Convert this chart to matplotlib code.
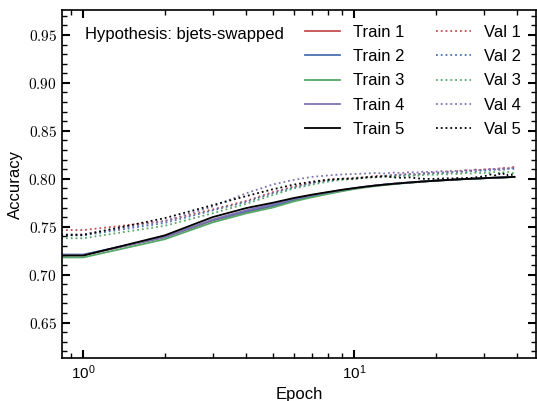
import matplotlib
matplotlib.use("Agg")
import matplotlib.pyplot as plt
from matplotlib.ticker import FuncFormatter, MultipleLocator
import numpy as np

plt.rcParams["font.family"] = ["Liberation Sans", "DejaVu Sans"]
plt.rcParams["mathtext.fontset"] = "cm"

epochs = np.arange(40)

train_1 = [0.700, 0.7205, 0.7390, 0.7565, 0.7655, 0.7715, 0.7775, 0.7815, 0.7848, 0.7875,
           0.7898, 0.7915, 0.7928, 0.7938, 0.7947, 0.7955, 0.7960, 0.7966, 0.7972, 0.7976,
           0.7980, 0.7984, 0.7987, 0.7990, 0.7993, 0.7996, 0.7998, 0.8000, 0.8002, 0.8004,
           0.8006, 0.8008, 0.8010, 0.8011, 0.8013, 0.8014, 0.8016, 0.8017, 0.8018, 0.8020]
train_2 = [0.700, 0.7210, 0.7392, 0.7568, 0.7660, 0.7720, 0.7780, 0.7820, 0.7850, 0.7878,
           0.7900, 0.7916, 0.7930, 0.7940, 0.7948, 0.7956, 0.7961, 0.7967, 0.7972, 0.7977,
           0.7981, 0.7984, 0.7987, 0.7990, 0.7993, 0.7996, 0.7998, 0.8000, 0.8002, 0.8004,
           0.8006, 0.8008, 0.8009, 0.8011, 0.8012, 0.8014, 0.8015, 0.8017, 0.8018, 0.8019]
train_3 = [0.698, 0.7180, 0.7370, 0.7545, 0.7640, 0.7700, 0.7765, 0.7808, 0.7842, 0.7870,
           0.7893, 0.7910, 0.7924, 0.7935, 0.7944, 0.7952, 0.7958, 0.7964, 0.7970, 0.7975,
           0.7979, 0.7982, 0.7986, 0.7989, 0.7992, 0.7995, 0.7997, 0.7999, 0.8001, 0.8003,
           0.8005, 0.8007, 0.8009, 0.8010, 0.8012, 0.8013, 0.8015, 0.8016, 0.8017, 0.8019]
train_4 = [0.700, 0.7205, 0.7395, 0.7575, 0.7672, 0.7735, 0.7792, 0.7830, 0.7858, 0.7883,
           0.7903, 0.7918, 0.7931, 0.7941, 0.7949, 0.7956, 0.7962, 0.7967, 0.7973, 0.7977,
           0.7981, 0.7985, 0.7988, 0.7991, 0.7994, 0.7996, 0.7999, 0.8001, 0.8003, 0.8004,
           0.8006, 0.8008, 0.8010, 0.8011, 0.8013, 0.8014, 0.8016, 0.8017, 0.8018, 0.8020]
train_5 = [0.700, 0.7200, 0.7410, 0.7600, 0.7695, 0.7750, 0.7800, 0.7835, 0.7862, 0.7885,
           0.7903, 0.7918, 0.7930, 0.7940, 0.7948, 0.7955, 0.7961, 0.7967, 0.7972, 0.7976,
           0.7980, 0.7984, 0.7987, 0.7990, 0.7993, 0.7996, 0.7998, 0.8000, 0.8002, 0.8004,
           0.8006, 0.8008, 0.8010, 0.8011, 0.8012, 0.8014, 0.8015, 0.8017, 0.8018, 0.8020]

val_1 = [0.720, 0.7465, 0.7560, 0.7680, 0.7770, 0.7860, 0.7920, 0.7960, 0.7990, 0.8000,
         0.8010, 0.8015, 0.8030, 0.8030, 0.8040, 0.8045, 0.8050, 0.8040, 0.8060, 0.8055,
         0.8070, 0.8060, 0.8075, 0.8070, 0.8080, 0.8075, 0.8090, 0.8085, 0.8095, 0.8090,
         0.8100, 0.8095, 0.8105, 0.8100, 0.8110, 0.8105, 0.8115, 0.8110, 0.8120, 0.8125]
val_2 = [0.718, 0.7410, 0.7540, 0.7670, 0.7760, 0.7850, 0.7910, 0.7955, 0.7980, 0.7995,
         0.8005, 0.8015, 0.8020, 0.8030, 0.8035, 0.8040, 0.8045, 0.8050, 0.8050, 0.8060,
         0.8055, 0.8065, 0.8060, 0.8070, 0.8065, 0.8075, 0.8070, 0.8080, 0.8075, 0.8085,
         0.8080, 0.8090, 0.8085, 0.8095, 0.8090, 0.8100, 0.8095, 0.8105, 0.8100, 0.8105]
val_3 = [0.716, 0.7380, 0.7510, 0.7640, 0.7740, 0.7830, 0.7900, 0.7940, 0.7970, 0.7990,
         0.8000, 0.8010, 0.8015, 0.8025, 0.8020, 0.8030, 0.8035, 0.8030, 0.8040, 0.8045,
         0.8040, 0.8050, 0.8045, 0.8055, 0.8050, 0.8055, 0.8060, 0.8055, 0.8065, 0.8060,
         0.8065, 0.8055, 0.8065, 0.8070, 0.8060, 0.8070, 0.8065, 0.8070, 0.8060, 0.8060]
val_4 = [0.719, 0.7420, 0.7560, 0.7710, 0.7850, 0.7940, 0.7990, 0.8020, 0.8035, 0.8045,
         0.8050, 0.8055, 0.8060, 0.8055, 0.8065, 0.8060, 0.8070, 0.8065, 0.8075, 0.8070,
         0.8075, 0.8080, 0.8075, 0.8085, 0.8080, 0.8085, 0.8090, 0.8085, 0.8095, 0.8090,
         0.8095, 0.8100, 0.8095, 0.8105, 0.8100, 0.8105, 0.8110, 0.8105, 0.8115, 0.8110]
val_5 = [0.717, 0.7415, 0.7590, 0.7725, 0.7820, 0.7890, 0.7940, 0.7970, 0.7990, 0.8000,
         0.8000, 0.8015, 0.8020, 0.8025, 0.8015, 0.8010, 0.8015, 0.8005, 0.8000, 0.7998,
         0.8000, 0.8002, 0.8005, 0.8003, 0.8008, 0.8005, 0.8010, 0.8008, 0.8015, 0.8020,
         0.8025, 0.8035, 0.8045, 0.8035, 0.8055, 0.8040, 0.8060, 0.8035, 0.8045, 0.8015]

train = [train_1, train_2, train_3, train_4, train_5]
val = [val_1, val_2, val_3, val_4, val_5]
colors = ["#C44E52", "#4C72B0", "#55A868", "#8172B2", "black"]

fig, ax = plt.subplots(figsize=(5.37, 4.01), dpi=100)
fig.subplots_adjust(left=0.115, right=0.998, bottom=0.107, top=0.975)

handles_tr, handles_va = [], []
for i in range(5):
    h, = ax.plot(epochs, train[i], c=colors[i], lw=1.3, label=f"Train {i + 1}")
    handles_tr.append(h)
    h, = ax.plot(epochs, val[i], c=colors[i], lw=1.3, ls=":", label=f"Val {i + 1}")
    handles_va.append(h)

ax.set_xscale("log")
ax.set_ylim(0.613, 0.976)
ax.yaxis.set_major_locator(MultipleLocator(0.05))
ax.yaxis.set_minor_locator(MultipleLocator(0.01))
ax.yaxis.set_major_formatter(FuncFormatter(lambda v, p: f"${v:.2f}$"))
ax.tick_params(which="both", direction="in", top=True, right=True, labelsize=11)
ax.tick_params(which="major", length=6, width=1.5)
ax.tick_params(which="minor", length=3.5, width=1)
for s in ax.spines.values():
    s.set_linewidth(1.2)

ax.set_xlabel("Epoch", fontsize=12)
ax.set_ylabel("Accuracy", fontsize=12)
ax.text(0.05, 0.93, "Hypothesis: bjets-swapped", transform=ax.transAxes,
        fontsize=12, va="center")
ax.legend(handles=handles_tr + handles_va, ncol=2, loc="upper right",
          frameon=False, fontsize=12, handlelength=2.1, columnspacing=1.85,
          labelspacing=0.55)

fig.savefig("out.png", dpi=100)
